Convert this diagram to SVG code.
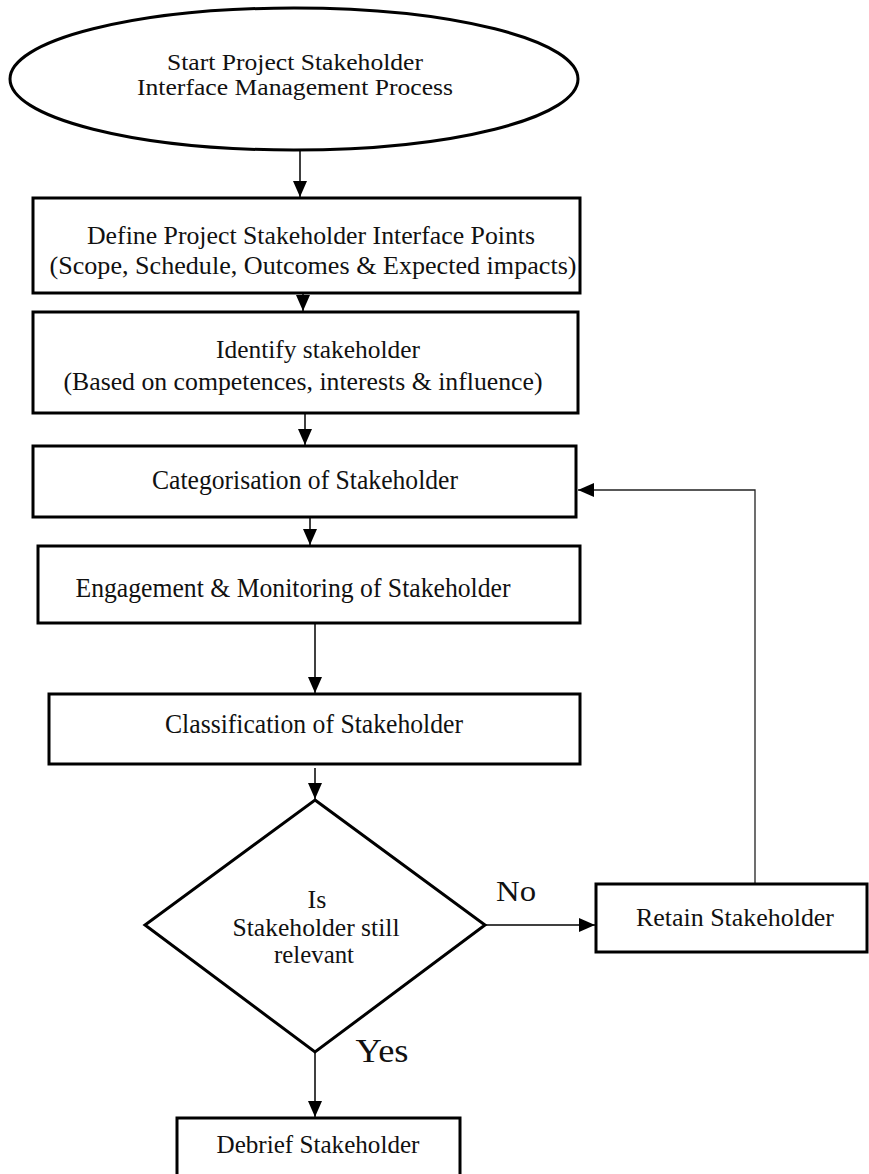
<svg xmlns="http://www.w3.org/2000/svg" width="869" height="1174" viewBox="0 0 869 1174">
<style>
.box{fill:#fff;stroke:#000;stroke-width:3}
.t{font-family:"Liberation Serif","Times New Roman",serif;font-size:26px;fill:#111;text-anchor:middle}
.c{fill:none;stroke:#000;stroke-width:1.5}
.loop{fill:none;stroke:#222;stroke-width:1.3}
</style>
<defs>
<marker id="ah" markerUnits="userSpaceOnUse" markerWidth="16" markerHeight="14" refX="16" refY="7" orient="auto">
<path d="M0,0 L16,7 L0,14 z" fill="#000"/>
</marker>
</defs>
<rect width="869" height="1174" fill="#fff"/>
<g id="connectors">
<line class="c" x1="300" y1="150" x2="300" y2="197" marker-end="url(#ah)"/>
<line class="c" x1="303" y1="294" x2="303" y2="311" marker-end="url(#ah)"/>
<line class="c" x1="305" y1="414" x2="305" y2="445" marker-end="url(#ah)"/>
<line class="c" x1="310" y1="518" x2="310" y2="545" marker-end="url(#ah)"/>
<line class="c" x1="315" y1="624" x2="315" y2="693" marker-end="url(#ah)"/>
<line class="c" x1="315" y1="768" x2="315" y2="799" marker-end="url(#ah)"/>
<line class="c" x1="485" y1="925" x2="595" y2="925" marker-end="url(#ah)"/>
<polyline class="loop" points="755,884 755,490 578,490" marker-end="url(#ah)"/>
<line class="c" x1="315" y1="1052" x2="315" y2="1117" marker-end="url(#ah)"/>
</g>
<g id="start">
<ellipse class="box" cx="294" cy="79" rx="284" ry="71"/>
<text class="t" x="295" y="70" style="font-size:23px" textLength="256" lengthAdjust="spacingAndGlyphs">Start Project Stakeholder</text>
<text class="t" x="295" y="95" style="font-size:23px" textLength="316" lengthAdjust="spacingAndGlyphs">Interface Management Process</text>
</g>
<g id="define">
<rect class="box" x="33" y="198" width="547" height="95"/>
<text class="t" x="311" y="244" textLength="448" lengthAdjust="spacingAndGlyphs">Define Project Stakeholder Interface Points</text>
<text class="t" x="313" y="274" textLength="527" lengthAdjust="spacingAndGlyphs">(Scope, Schedule, Outcomes &amp; Expected impacts)</text>
</g>
<g id="identify">
<rect class="box" x="33" y="312" width="545" height="101"/>
<text class="t" x="318" y="358" textLength="204" lengthAdjust="spacingAndGlyphs">Identify stakeholder</text>
<text class="t" x="303" y="390" textLength="479" lengthAdjust="spacingAndGlyphs">(Based on competences, interests &amp; influence)</text>
</g>
<g id="categorisation">
<rect class="box" x="33" y="446" width="543" height="71"/>
<text class="t" x="305" y="489" style="font-size:27px" textLength="306" lengthAdjust="spacingAndGlyphs">Categorisation of Stakeholder</text>
</g>
<g id="engagement">
<rect class="box" x="38" y="546" width="542" height="77"/>
<text class="t" x="293" y="597" style="font-size:27px" textLength="435" lengthAdjust="spacingAndGlyphs">Engagement &amp; Monitoring of Stakeholder</text>
</g>
<g id="classification">
<rect class="box" x="49" y="694" width="531" height="70"/>
<text class="t" x="314" y="733" style="font-size:27px" textLength="298" lengthAdjust="spacingAndGlyphs">Classification of Stakeholder</text>
</g>
<g id="decision">
<polygon class="box" points="315,800 485,925 315,1052 145,925"/>
<text class="t" x="317" y="908">Is</text>
<text class="t" x="316" y="936" textLength="167" lengthAdjust="spacingAndGlyphs">Stakeholder still</text>
<text class="t" x="314" y="963" textLength="80" lengthAdjust="spacingAndGlyphs">relevant</text>
</g>
<g id="labels">
<text class="t" x="516" y="901" style="font-size:30px" textLength="40" lengthAdjust="spacingAndGlyphs">No</text>
<text class="t" x="382" y="1062" style="font-size:33px" textLength="53" lengthAdjust="spacingAndGlyphs">Yes</text>
</g>
<g id="retain">
<rect class="box" x="596" y="884" width="271" height="68"/>
<text class="t" x="735" y="926" textLength="198" lengthAdjust="spacingAndGlyphs">Retain Stakeholder</text>
</g>
<g id="debrief">
<rect class="box" x="177" y="1118" width="283" height="70"/>
<text class="t" x="318" y="1153" textLength="203" lengthAdjust="spacingAndGlyphs">Debrief Stakeholder</text>
</g>
</svg>
